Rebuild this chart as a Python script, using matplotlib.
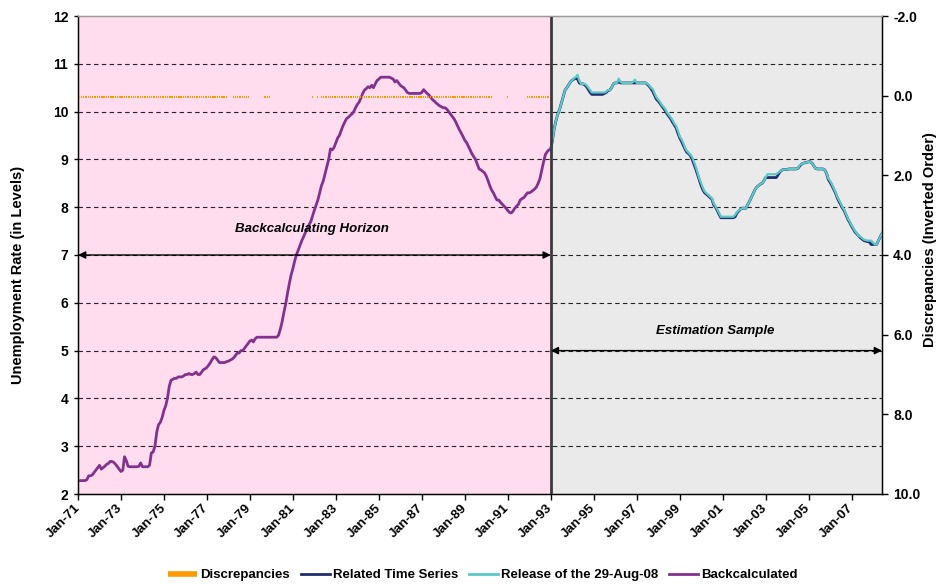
import numpy as np
import pandas as pd
import matplotlib
matplotlib.use('Agg')
import matplotlib.pyplot as plt
import matplotlib.dates as mdates
from matplotlib.lines import Line2D

plt.rcParams['font.family'] = ['Liberation Sans', 'DejaVu Sans']
plt.rcParams['font.weight'] = 'bold'

# ---------------- data (monthly) ----------------
# Backcalculated series, Jan-71 .. Jan-93
bc_1971 = [2.28, 2.28, 2.28, 2.28, 2.28, 2.30, 2.38, 2.38, 2.40, 2.45, 2.50, 2.55]
bc_1972 = [2.60, 2.52, 2.55, 2.58, 2.62, 2.64, 2.68, 2.68, 2.66, 2.62, 2.57, 2.52]
bc_1973 = [2.47, 2.50, 2.78, 2.70, 2.58, 2.57, 2.57, 2.57, 2.57, 2.57, 2.58, 2.65]
bc_1974 = [2.57, 2.57, 2.57, 2.57, 2.60, 2.86, 2.88, 3.00, 3.30, 3.45, 3.50, 3.60]
bc_1975 = [3.75, 3.85, 4.00, 4.25, 4.38, 4.40, 4.42, 4.42, 4.45, 4.45, 4.45, 4.47]
bc_1976 = [4.50, 4.50, 4.52, 4.50, 4.50, 4.52, 4.55, 4.50, 4.50, 4.55, 4.60, 4.62]
bc_1977 = [4.65, 4.70, 4.75, 4.82, 4.87, 4.85, 4.80, 4.75, 4.75, 4.75, 4.75, 4.77]
bc_1978 = [4.78, 4.80, 4.82, 4.85, 4.90, 4.95, 4.95, 5.00, 5.00, 5.05, 5.10, 5.15]
bc_1979 = [5.20, 5.22, 5.18, 5.25, 5.28, 5.28, 5.28, 5.28, 5.28, 5.28, 5.28, 5.28]
bc_1980 = [5.28, 5.28, 5.28, 5.28, 5.32, 5.45, 5.60, 5.80, 5.98, 6.20, 6.40, 6.58]
bc_1981 = [6.72, 6.88, 7.00, 7.10, 7.20, 7.30, 7.38, 7.47, 7.55, 7.63, 7.70, 7.82]
bc_1982 = [7.94, 8.05, 8.15, 8.30, 8.45, 8.55, 8.70, 8.85, 9.00, 9.22, 9.20, 9.25]
bc_1983 = [9.35, 9.45, 9.50, 9.60, 9.70, 9.78, 9.85, 9.88, 9.92, 9.95, 10.00, 10.08]
bc_1984 = [10.15, 10.20, 10.28, 10.38, 10.45, 10.48, 10.52, 10.50, 10.55, 10.50, 10.58, 10.65]
bc_1985 = [10.68, 10.72, 10.72, 10.72, 10.72, 10.72, 10.72, 10.70, 10.68, 10.62, 10.65, 10.60]
bc_1986 = [10.55, 10.52, 10.50, 10.45, 10.40, 10.38, 10.38, 10.38, 10.38, 10.38, 10.38, 10.38]
bc_1987 = [10.40, 10.46, 10.42, 10.38, 10.35, 10.30, 10.25, 10.22, 10.18, 10.15, 10.12, 10.10]
bc_1988 = [10.08, 10.08, 10.05, 10.00, 9.95, 9.90, 9.85, 9.78, 9.70, 9.62, 9.55, 9.48]
bc_1989 = [9.40, 9.35, 9.28, 9.20, 9.12, 9.06, 9.00, 8.90, 8.80, 8.78, 8.75, 8.72]
bc_1990 = [8.65, 8.55, 8.45, 8.36, 8.30, 8.22, 8.15, 8.15, 8.10, 8.06, 8.02, 7.98]
bc_1991 = [7.93, 7.89, 7.88, 7.92, 7.98, 8.02, 8.06, 8.15, 8.18, 8.20, 8.25, 8.30]
bc_1992 = [8.30, 8.32, 8.35, 8.38, 8.42, 8.50, 8.60, 8.78, 8.95, 9.10, 9.16, 9.20]
bc_1993 = [9.22]

# Release of the 29-Aug-08, Jan-93 .. Jun-08
rel_1993 = [9.22, 9.42, 9.65, 9.82, 9.95, 10.05, 10.18, 10.32, 10.45, 10.50, 10.56, 10.62]
rel_1994 = [10.66, 10.70, 10.72, 10.77, 10.65, 10.58, 10.58, 10.58, 10.55, 10.50, 10.45, 10.40]
rel_1995 = [10.40, 10.40, 10.40, 10.40, 10.40, 10.40, 10.40, 10.42, 10.45, 10.45, 10.50, 10.58]
rel_1996 = [10.60, 10.60, 10.69, 10.62, 10.60, 10.60, 10.60, 10.60, 10.60, 10.60, 10.62, 10.67]
rel_1997 = [10.60, 10.60, 10.60, 10.60, 10.60, 10.60, 10.58, 10.55, 10.50, 10.47, 10.38, 10.30]
rel_1998 = [10.25, 10.20, 10.14, 10.10, 10.05, 9.98, 9.93, 9.88, 9.82, 9.75, 9.70, 9.60]
rel_1999 = [9.48, 9.42, 9.35, 9.25, 9.18, 9.14, 9.10, 9.05, 8.95, 8.85, 8.72, 8.60]
rel_2000 = [8.50, 8.40, 8.33, 8.29, 8.26, 8.22, 8.19, 8.08, 8.02, 7.95, 7.88, 7.80]
rel_2001 = [7.80, 7.80, 7.80, 7.80, 7.80, 7.80, 7.80, 7.84, 7.90, 7.93, 7.96, 7.98]
rel_2002 = [7.98, 7.98, 8.05, 8.12, 8.20, 8.28, 8.36, 8.42, 8.45, 8.48, 8.50, 8.55]
rel_2003 = [8.62, 8.69, 8.69, 8.69, 8.69, 8.69, 8.69, 8.72, 8.75, 8.77, 8.79, 8.79]
rel_2004 = [8.79, 8.80, 8.80, 8.80, 8.80, 8.80, 8.81, 8.88, 8.90, 8.92, 8.93, 8.94]
rel_2005 = [8.95, 8.95, 8.92, 8.86, 8.81, 8.80, 8.80, 8.80, 8.80, 8.78, 8.71, 8.60]
rel_2006 = [8.55, 8.48, 8.40, 8.32, 8.22, 8.15, 8.08, 8.00, 7.94, 7.85, 7.76, 7.70]
rel_2007 = [7.62, 7.56, 7.50, 7.45, 7.40, 7.38, 7.35, 7.32, 7.31, 7.30, 7.30, 7.30]
rel_2008 = [7.26, 7.22, 7.22, 7.30, 7.38, 7.45]

# Related Time Series, Jan-93 .. Jun-08
rts_1993 = [9.22, 9.42, 9.65, 9.82, 9.95, 10.05, 10.18, 10.32, 10.45, 10.50, 10.56, 10.62]
rts_1994 = [10.66, 10.68, 10.70, 10.68, 10.60, 10.58, 10.58, 10.56, 10.52, 10.46, 10.40, 10.36]
rts_1995 = [10.36, 10.36, 10.36, 10.36, 10.36, 10.36, 10.38, 10.40, 10.44, 10.45, 10.50, 10.58]
rts_1996 = [10.60, 10.60, 10.62, 10.60, 10.60, 10.60, 10.60, 10.60, 10.60, 10.60, 10.60, 10.60]
rts_1997 = [10.60, 10.60, 10.60, 10.60, 10.60, 10.60, 10.57, 10.53, 10.48, 10.42, 10.34, 10.26]
rts_1998 = [10.22, 10.17, 10.12, 10.07, 10.02, 9.95, 9.90, 9.85, 9.78, 9.72, 9.66, 9.55]
rts_1999 = [9.45, 9.38, 9.30, 9.22, 9.15, 9.12, 9.08, 9.00, 8.90, 8.80, 8.68, 8.56]
rts_2000 = [8.45, 8.36, 8.30, 8.27, 8.24, 8.20, 8.17, 8.05, 8.00, 7.93, 7.85, 7.78]
rts_2001 = [7.78, 7.78, 7.78, 7.78, 7.78, 7.78, 7.78, 7.80, 7.88, 7.92, 7.96, 7.98]
rts_2002 = [7.98, 7.98, 8.05, 8.12, 8.20, 8.28, 8.36, 8.42, 8.45, 8.48, 8.50, 8.55]
rts_2003 = [8.62, 8.62, 8.62, 8.62, 8.62, 8.62, 8.62, 8.68, 8.74, 8.77, 8.79, 8.79]
rts_2004 = [8.79, 8.80, 8.80, 8.80, 8.80, 8.80, 8.81, 8.86, 8.90, 8.92, 8.93, 8.94]
rts_2005 = [8.95, 8.95, 8.92, 8.86, 8.81, 8.80, 8.80, 8.80, 8.80, 8.78, 8.71, 8.58]
rts_2006 = [8.52, 8.45, 8.38, 8.30, 8.20, 8.12, 8.05, 7.98, 7.92, 7.83, 7.74, 7.68]
rts_2007 = [7.60, 7.54, 7.48, 7.44, 7.40, 7.36, 7.33, 7.30, 7.29, 7.28, 7.27, 7.22]
rts_2008 = [7.22, 7.22, 7.22, 7.30, 7.38, 7.45]

# Discrepancies (right axis, inverted), Jan-71 .. Jan-93
dc_1971 = [0.05] * 0 + [0.05, 0.05, 0.05, 0.05, 0.05, 0.05, 0.05, 0.05, 0.05, 0.05, 0.05, 0.05]
dc_1972 = [0.05, 0.05, 0.05, 0.05, 0.05, 0.05, 0.05, 0.05, 0.05, 0.05, 0.05, 0.05]
dc_1973 = [0.05, 0.05, 0.05, 0.05, 0.05, 0.05, 0.05, 0.05, 0.05, 0.05, 0.05, 0.05]
dc_1974 = [0.05, 0.05, 0.05, 0.05, 0.05, 0.05, 0.05, 0.05, 0.05, 0.05, 0.05, 0.05]
dc_1975 = [0.05, 0.05, 0.05, 0.05, 0.05, 0.05, 0.05, 0.05, 0.05, 0.05, 0.05, 0.05]
dc_1976 = [0.05, 0.05, 0.05, 0.05, 0.05, 0.05, 0.05, 0.05, 0.05, 0.05, 0.05, 0.05]
dc_1977 = [0.05, 0.05, 0.05, 0.05, 0.05, 0.05, 0.05, 0.05, 0.05, 0.05, 0.05, 0.05]
dc_1978 = [0.00, 0.00, 0.00, 0.05, 0.05, 0.05, 0.05, 0.05, 0.05, 0.05, 0.05, 0.05]
dc_1979 = [0.00, 0.00, 0.00, 0.00, 0.00, 0.00, 0.00, 0.00, 0.05, 0.05, 0.05, 0.05]
dc_1980 = [0.00, 0.00, 0.00, 0.00, 0.00, 0.00, 0.00, 0.00, 0.00, 0.00, 0.00, 0.00]
dc_1981 = [0.00, 0.00, 0.00, 0.00, 0.00, 0.00, 0.00, 0.00, 0.00, 0.00, 0.00, 0.05]
dc_1982 = [0.00, 0.00, 0.05, 0.00, 0.05, 0.05, 0.05, 0.05, 0.05, 0.05, 0.05, 0.05]
dc_1983 = [0.05, 0.05, 0.05, 0.05, 0.05, 0.05, 0.05, 0.05, 0.05, 0.05, 0.05, 0.05]
dc_1984 = [0.05, 0.05, 0.05, 0.05, 0.05, 0.05, 0.05, 0.05, 0.05, 0.05, 0.05, 0.05]
dc_1985 = [0.05, 0.05, 0.05, 0.05, 0.05, 0.05, 0.05, 0.05, 0.05, 0.05, 0.05, 0.05]
dc_1986 = [0.05, 0.05, 0.05, 0.05, 0.05, 0.05, 0.05, 0.05, 0.05, 0.05, 0.05, 0.05]
dc_1987 = [0.05, 0.05, 0.05, 0.05, 0.05, 0.05, 0.05, 0.05, 0.05, 0.05, 0.05, 0.05]
dc_1988 = [0.05, 0.05, 0.05, 0.05, 0.05, 0.05, 0.05, 0.05, 0.05, 0.05, 0.05, 0.05]
dc_1989 = [0.05, 0.05, 0.05, 0.05, 0.05, 0.05, 0.05, 0.05, 0.05, 0.05, 0.05, 0.05]
dc_1990 = [0.05, 0.05, 0.05, 0.05, 0.00, 0.00, 0.00, 0.00, 0.00, 0.00, 0.00, 0.00]
dc_1991 = [0.05, 0.00, 0.00, 0.00, 0.00, 0.00, 0.00, 0.00, 0.00, 0.00, 0.00, 0.05]
dc_1992 = [0.05, 0.05, 0.05, 0.05, 0.05, 0.05, 0.05, 0.05, 0.05, 0.05, 0.05, 0.05]
dc_1993 = [0.00]

tick_labels = ['Jan-71', 'Jan-73', 'Jan-75', 'Jan-77', 'Jan-79', 'Jan-81', 'Jan-83',
               'Jan-85', 'Jan-87', 'Jan-89', 'Jan-91', 'Jan-93', 'Jan-95', 'Jan-97',
               'Jan-99', 'Jan-01', 'Jan-03', 'Jan-05', 'Jan-07']
tick_dates = ['1971-01-01', '1973-01-01', '1975-01-01', '1977-01-01', '1979-01-01',
              '1981-01-01', '1983-01-01', '1985-01-01', '1987-01-01', '1989-01-01',
              '1991-01-01', '1993-01-01', '1995-01-01', '1997-01-01', '1999-01-01',
              '2001-01-01', '2003-01-01', '2005-01-01', '2007-01-01']
left_ticks = [2, 3, 4, 5, 6, 7, 8, 9, 10, 11, 12]
right_ticks = [-2, 0, 2, 4, 6, 8, 10]
right_tick_labels = ['-2.0', '0.0', '2.0', '4.0', '6.0', '8.0', '10.0']
series_names = ['Discrepancies', 'Related Time Series', 'Release of the 29-Aug-08', 'Backcalculated']

backcalc = (bc_1971 + bc_1972 + bc_1973 + bc_1974 + bc_1975 + bc_1976 + bc_1977 + bc_1978 +
            bc_1979 + bc_1980 + bc_1981 + bc_1982 + bc_1983 + bc_1984 + bc_1985 + bc_1986 +
            bc_1987 + bc_1988 + bc_1989 + bc_1990 + bc_1991 + bc_1992 + bc_1993)
release = (rel_1993 + rel_1994 + rel_1995 + rel_1996 + rel_1997 + rel_1998 + rel_1999 +
           rel_2000 + rel_2001 + rel_2002 + rel_2003 + rel_2004 + rel_2005 + rel_2006 +
           rel_2007 + rel_2008)
related = (rts_1993 + rts_1994 + rts_1995 + rts_1996 + rts_1997 + rts_1998 + rts_1999 +
           rts_2000 + rts_2001 + rts_2002 + rts_2003 + rts_2004 + rts_2005 + rts_2006 +
           rts_2007 + rts_2008)
discrep = (dc_1971 + dc_1972 + dc_1973 + dc_1974 + dc_1975 + dc_1976 + dc_1977 + dc_1978 +
           dc_1979 + dc_1980 + dc_1981 + dc_1982 + dc_1983 + dc_1984 + dc_1985 + dc_1986 +
           dc_1987 + dc_1988 + dc_1989 + dc_1990 + dc_1991 + dc_1992 + dc_1993)

bc_dates = mdates.date2num(pd.date_range('1971-01-01', periods=len(backcalc), freq='MS'))
est_dates = mdates.date2num(pd.date_range('1993-01-01', periods=len(release), freq='MS'))
dc_dates = mdates.date2num(pd.date_range('1971-01-01', periods=len(discrep), freq='MS'))

# ---------------- colours ----------------
PINK = '#FFDDEE'
GREY = '#EAEAEA'
PURPLE = '#82318F'
NAVY = '#1F2D6E'
CYAN = '#5CC8C8'
ORANGE = '#FF9900'

W, H = 938, 585
fig = plt.figure(figsize=(W / 100, H / 100), dpi=100)
L, R, T, B = 78, 882, 16, 494
ax = fig.add_axes([L / W, 1 - B / H, (R - L) / W, (B - T) / H])

xmin = bc_dates[0]
xmax = est_dates[-1]
split = est_dates[0]

ax.axvspan(xmin, split, color=PINK, zorder=0, lw=0)
ax.axvspan(split, xmax, color=GREY, zorder=0, lw=0)
for yv in left_ticks[1:-1]:
    ax.axhline(yv, color='#222222', lw=0.8, ls=(0, (4, 3)), zorder=1)

ax.plot(bc_dates, backcalc, color=PURPLE, lw=2.0, zorder=3)
ax.plot(est_dates, related, color=NAVY, lw=2.0, zorder=3)
ax.plot(est_dates, release, color=CYAN, lw=1.6, zorder=4)
ax.axvline(split, color='#3A3A3A', lw=2.0, zorder=5)

arrow_kw = dict(arrowstyle='<|-|>', color='black', lw=1.0, mutation_scale=11,
                shrinkA=0, shrinkB=0)
ax.annotate('', xy=(xmin, 7), xytext=(split, 7), arrowprops=arrow_kw, zorder=6)
ax.annotate('', xy=(split, 5), xytext=(xmax, 5), arrowprops=arrow_kw, zorder=6)
ax.text((312 - L) / (R - L), (B - 229) / (B - T), 'Backcalculating Horizon',
        transform=ax.transAxes, ha='center', va='center', fontsize=9.5,
        fontweight='bold', fontstyle='italic')
ax.text((715 - L) / (R - L), (B - 331) / (B - T), 'Estimation Sample',
        transform=ax.transAxes, ha='center', va='center', fontsize=9.5,
        fontweight='bold', fontstyle='italic')

ax.set_xlim(xmin, xmax)
ax.set_ylim(2, 12)
ax.set_yticks(left_ticks)
ax.set_yticklabels([str(v) for v in left_ticks], fontsize=10, fontweight='bold')
ax.set_xticks(mdates.date2num(pd.to_datetime(tick_dates)))
ax.set_xticklabels(tick_labels, rotation=45, ha='right', va='center',
                   rotation_mode='anchor', fontsize=9.5, fontweight='bold')
ax.tick_params(axis='x', direction='out', length=4, width=1, pad=5)
ax.tick_params(axis='y', direction='out', length=3, width=1, pad=4)

for s in ['left', 'bottom', 'right']:
    ax.spines[s].set_color('black')
    ax.spines[s].set_linewidth(1.0)
ax.spines['top'].set_color('#999999')
ax.spines['top'].set_linewidth(1.0)

ax2 = ax.twinx()
ax2.bar(dc_dates, discrep, width=18, color=ORANGE, lw=0, zorder=2)
ax2.set_ylim(10, -2)
ax2.set_yticks(right_ticks)
ax2.set_yticklabels(right_tick_labels, fontsize=10, fontweight='bold')
ax2.tick_params(axis='y', direction='out', length=4, width=1, pad=4)
ax2.set_xlim(xmin, xmax)
ax2.spines['top'].set_color('#999999')
ax2.spines['right'].set_color('black')

fig.text(18 / W, 1 - 275 / H, 'Unemployment Rate (in Levels)', rotation=90,
         ha='center', va='center', fontsize=10.5, fontweight='bold')
fig.text(930 / W, 1 - 240 / H, 'Discrepancies (Inverted Order)', rotation=90,
         ha='center', va='center', fontsize=10.5, fontweight='bold')

handles = [Line2D([0], [0], color=ORANGE, lw=4, solid_capstyle='butt'),
           Line2D([0], [0], color=NAVY, lw=2),
           Line2D([0], [0], color=CYAN, lw=2),
           Line2D([0], [0], color=PURPLE, lw=2)]
fig.legend(handles, series_names, loc='center', bbox_to_anchor=(483 / W, 10 / H),
           ncol=4, frameon=False, fontsize=9.5, handlelength=2.2,
           handletextpad=0.25, columnspacing=0.8,
           prop={'weight': 'bold', 'size': 9.5})

fig.savefig('out.png', dpi=100)
